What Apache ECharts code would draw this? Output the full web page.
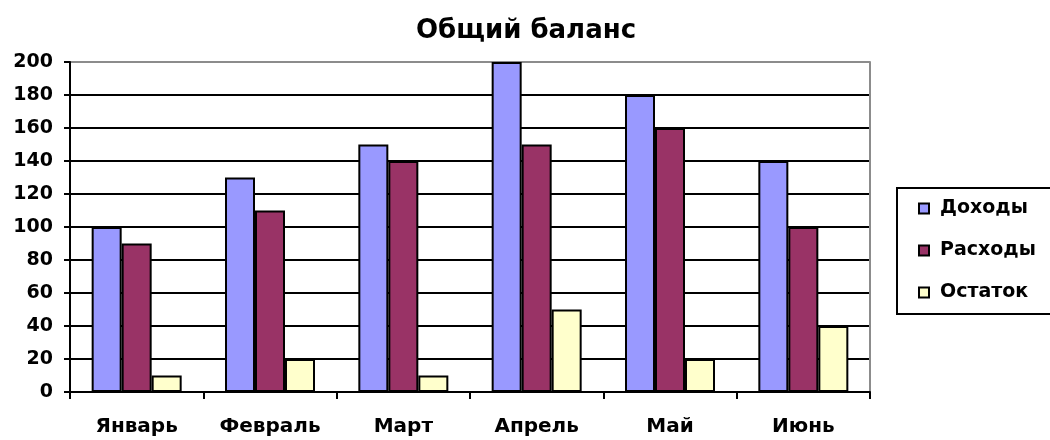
<!DOCTYPE html>
<html>
<head>
<meta charset="utf-8">
<script src="https://cdn.jsdelivr.net/npm/echarts@6/dist/echarts.min.js"></script>
<style>
  html, body { margin: 0; padding: 0; background: #fff; }
  #chart { width: 1050px; height: 440px; }
</style>
</head>
<body>
<div id="chart"></div>
<script>
// Monthly balance: income, expenses and remainder
const months = ['Январь', 'Февраль', 'Март', 'Апрель', 'Май', 'Июнь'];
const income = [100, 130, 150, 200, 180, 140];
const expenses = [90, 110, 140, 150, 160, 100];
const remainder = [10, 20, 10, 50, 20, 40];
const seriesNames = ['Доходы', 'Расходы', 'Остаток'];
const yTicks = { min: 0, max: 200, interval: 20 };

const FONT = '"DejaVu Sans", Verdana, sans-serif';
const colors = ['#9999FF', '#993366', '#FFFFCC'];

// grid lines 0..200: all black except the top border line, which is grey
const splitColors = [];
for (let v = yTicks.min; v <= yTicks.max; v += yTicks.interval) {
  splitColors.push(v === yTicks.max ? '#8c8c8c' : '#000');
}

function barSeries(name, data, color) {
  return {
    name: name,
    type: 'bar',
    data: data,
    barWidth: 30,
    barGap: '0%',
    itemStyle: { color: color, borderColor: '#000', borderWidth: 2 },
    emphasis: { disabled: true }
  };
}

const chart = echarts.init(document.getElementById('chart'), null, { renderer: 'canvas' });
chart.setOption({
  animation: false,
  color: colors,
  title: {
    text: 'Общий баланс',
    left: 521,
    textAlign: 'center',
    top: 13,
    textStyle: { fontFamily: FONT, fontSize: 26, fontWeight: 'bold', color: '#000' }
  },
  legend: {
    orient: 'vertical',
    left: 897,
    top: 188,
    padding: [11, 16, 12, 21],
    itemGap: 23,
    itemWidth: 10,
    itemHeight: 10,
    borderColor: '#000',
    borderWidth: 2,
    icon: 'rect',
    itemStyle: { borderColor: '#000', borderWidth: 2 },
    textStyle: { fontFamily: FONT, fontSize: 19, fontWeight: 'bold', color: '#000', padding: [0, 0, 0, 6] },
    data: seriesNames
  },
  grid: { left: 70, right: 180, top: 62, bottom: 48, containLabel: false },
  xAxis: {
    type: 'category',
    data: months,
    boundaryGap: true,
    axisLine: { lineStyle: { color: '#000', width: 2 } },
    axisTick: { show: true, length: 7, lineStyle: { color: '#000', width: 2 } },
    axisLabel: { fontFamily: FONT, fontSize: 20, fontWeight: 'bold', color: '#000', margin: 25 }
  },
  yAxis: [{
    type: 'value',
    min: yTicks.min,
    max: yTicks.max,
    interval: yTicks.interval,
    axisLine: { show: true, lineStyle: { color: '#000', width: 2 } },
    axisTick: { show: true, length: 6, lineStyle: { color: '#000', width: 2 } },
    axisLabel: { fontFamily: FONT, fontSize: 19, fontWeight: 'bold', color: '#000', margin: 17 },
    splitLine: { show: true, lineStyle: { color: splitColors, width: 2 } }
  }, {
    type: 'value',
    position: 'right',
    min: yTicks.min,
    max: yTicks.max,
    interval: yTicks.interval,
    axisLine: { show: true, lineStyle: { color: '#8c8c8c', width: 2 } },
    axisTick: { show: false },
    axisLabel: { show: false },
    splitLine: { show: false }
  }],
  series: [
    barSeries(seriesNames[0], income, colors[0]),
    barSeries(seriesNames[1], expenses, colors[1]),
    barSeries(seriesNames[2], remainder, colors[2])
  ]
});
</script>
</body>
</html>
